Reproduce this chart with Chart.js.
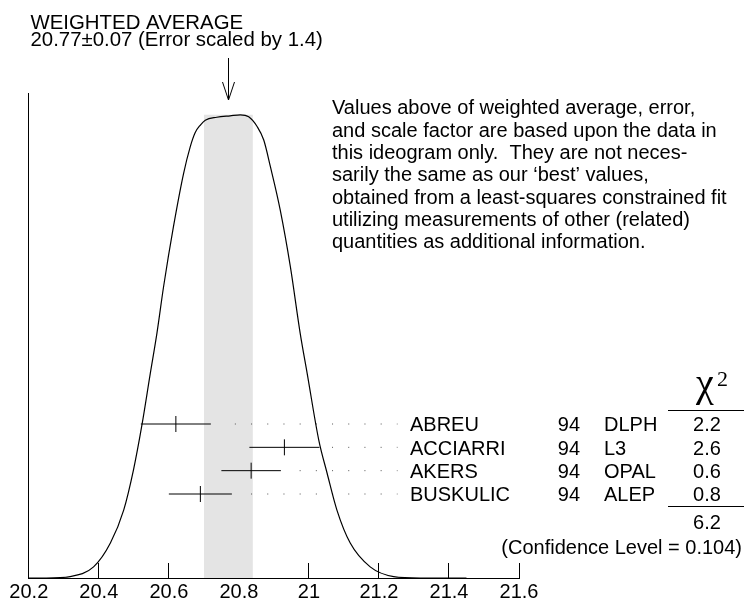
<!DOCTYPE html>
<html><head><meta charset="utf-8">
<script src="https://cdn.jsdelivr.net/npm/chart.js@4.4.1/dist/chart.umd.min.js"></script>
<style>html,body{margin:0;padding:0;background:#fff;overflow:hidden}#c{display:block}</style>
</head><body>
<canvas id="c" width="746" height="607" style="width:746px;height:607px"></canvas>
<script>
// ---- data ----
const names = ['ABREU', 'ACCIARRI', 'AKERS', 'BUSKULIC'];
const years = ['94', '94', '94', '94'];
const experiments = ['DLPH', 'L3', 'OPAL', 'ALEP'];
const values = [20.62, 20.93, 20.835, 20.69];
const errors = [0.10, 0.10, 0.085, 0.09];
const chi2 = ['2.2', '2.6', '0.6', '0.8'];
const chi2Total = '6.2';
const confidenceLevel = '0.104';
const weightedAverage = 20.77;
const weightedError = 0.07;
const scaleFactor = 1.4;
const xTicks = [20.2, 20.4, 20.6, 20.8, 21.0, 21.2, 21.4, 21.6];
const curveX = [20.20, 20.25, 20.318, 20.385, 20.433, 20.471, 20.499, 20.523, 20.547, 20.566, 20.585, 20.613, 20.642, 20.661, 20.675, 20.690, 20.704, 20.737, 20.775, 20.804, 20.828, 20.852, 20.871, 20.890, 20.918, 20.947, 20.975, 20.995, 21.028, 21.052, 21.080, 21.118, 21.175, 21.242, 21.318, 21.45];
const curveY = [0.000, 0.000, 0.003, 0.023, 0.072, 0.140, 0.223, 0.315, 0.422, 0.505, 0.601, 0.724, 0.834, 0.889, 0.918, 0.934, 0.944, 0.950, 0.953, 0.955, 0.951, 0.931, 0.903, 0.848, 0.759, 0.642, 0.505, 0.422, 0.285, 0.216, 0.140, 0.072, 0.023, 0.003, 0.000, 0.000];
const noteLines = [
  'Values above of weighted average, error,',
  'and scale factor are based upon the data in',
  'this ideogram only.  They are not neces-',
  'sarily the same as our \u2018best\u2019 values,',
  'obtained from a least-squares constrained fit',
  'utilizing measurements of other (related)',
  'quantities as additional information.'
];

// ---- rendering ----
const F = "'Liberation Sans', Arial, Helvetica, sans-serif";
const SERIF = "'Liberation Serif', 'DejaVu Serif', serif";
Chart.defaults.font.family = F;
Chart.defaults.font.size = 20;
Chart.defaults.color = '#000';

const bandTop = Math.max(...curveY);
const dotEnd = 21.251, dotStep = 0.04625, dotGap = 0.034;

const datasets = [];
datasets.push({
  data: curveX.map((x, i) => ({x: x, y: curveY[i]})),
  borderColor: '#000', borderWidth: 1.2, pointRadius: 0,
  cubicInterpolationMode: 'monotone', fill: false, order: 1
});
datasets.push({
  data: [{x: weightedAverage - weightedError, y: bandTop}, {x: weightedAverage + weightedError, y: bandTop}],
  borderColor: 'rgba(0,0,0,0)', borderWidth: 0, backgroundColor: '#e4e4e4',
  fill: 'origin', pointRadius: 0, order: 10
});
values.forEach((v, i) => {
  const e = errors[i];
  datasets.push({
    yAxisID: 'yr', data: [{x: v - e, y: i}, {x: v + e, y: i}],
    borderColor: '#000', borderWidth: 1, pointRadius: 0, fill: false, order: 2
  });
  const hi = v + e + dotGap;
  const start = dotEnd - dotStep * Math.floor((dotEnd - hi) / dotStep + 1e-9);
  datasets.push({
    yAxisID: 'yr', data: [{x: start, y: i}, {x: dotEnd + 0.002, y: i}],
    borderColor: '#555', borderWidth: 1, borderDash: [1, 15.2], pointRadius: 0, fill: false, order: 3
  });
});
datasets.push({
  yAxisID: 'yr', showLine: false,
  data: values.map((v, i) => ({x: v, y: i})),
  pointStyle: 'line', rotation: 90, pointRadius: 8, pointBorderWidth: 1,
  pointBorderColor: '#000', borderColor: '#000', order: 2
});

const textPlugin = {
  id: 'texts',
  afterDraw(chart) {
    const ctx = chart.ctx;
    const xs = chart.scales.x, yr = chart.scales.yr;
    ctx.save();
    ctx.fillStyle = '#000';
    ctx.strokeStyle = '#000';
    ctx.lineWidth = 1;
    ctx.textBaseline = 'alphabetic';
    ctx.font = '20.4px ' + F;
    ctx.textAlign = 'left';
    ctx.fillText('WEIGHTED AVERAGE', 30.5, 28.5);
    ctx.fillText(weightedAverage.toFixed(2) + '\u00b1' + weightedError.toFixed(2) + ' (Error scaled by ' + scaleFactor + ')', 30.5, 45.5);
    // arrow
    const ax = Math.round(xs.getPixelForValue(weightedAverage)) + 0.5;
    ctx.beginPath();
    ctx.moveTo(ax, 58); ctx.lineTo(ax, 100);
    ctx.moveTo(ax - 6, 82); ctx.lineTo(ax, 100); ctx.lineTo(ax + 6, 82);
    ctx.stroke();
    // note
    ctx.font = '20px ' + F;
    noteLines.forEach((t, i) => ctx.fillText(t, 332, 114.3 + 22.3 * i));
    // rows
    names.forEach((n, i) => {
      const y = yr.getPixelForValue(i) + 7.3;
      ctx.textAlign = 'left';
      ctx.fillText(n, 410, y);
      ctx.textAlign = 'right';
      ctx.fillText(years[i], 580, y);
      ctx.textAlign = 'left';
      ctx.fillText(experiments[i], 604, y);
      ctx.textAlign = 'center';
      ctx.fillText(chi2[i], 707, y);
    });
    // chi2 header
    ctx.textAlign = 'center';
    ctx.font = '40px ' + SERIF;
    ctx.fillText('\u03c7', 705, 396);
    ctx.font = '22px ' + SERIF;
    ctx.textAlign = 'left';
    ctx.fillText('2', 717, 386);
    ctx.beginPath();
    ctx.moveTo(668, 410.5); ctx.lineTo(744, 410.5);
    ctx.moveTo(668, 506.5); ctx.lineTo(744, 506.5);
    ctx.stroke();
    ctx.font = '20px ' + F;
    ctx.textAlign = 'center';
    ctx.fillText(chi2Total, 707, 529);
    ctx.textAlign = 'right';
    ctx.fillText('(Confidence Level = ' + confidenceLevel + ')', 742, 554);
    ctx.restore();
  }
};

new Chart(document.getElementById('c'), {
  type: 'line',
  data: {datasets: datasets},
  plugins: [textPlugin],
  options: {
    responsive: false, animation: false, devicePixelRatio: 1, events: [],
    layout: {padding: {left: 28.8, right: 227, top: 93, bottom: 0}},
    plugins: {legend: {display: false}, tooltip: {enabled: false}},
    scales: {
      x: {
        type: 'linear', min: 20.2, max: 21.6,
        afterBuildTicks: s => { s.ticks = xTicks.map(v => ({value: v})); },
        afterFit: s => { s.height = 29; s.paddingLeft = 0; s.paddingRight = 0; },
        ticks: {padding: 17.5, autoSkip: false, maxRotation: 0, color: '#000',
                font: {size: 20}, callback: v => String(Number(v.toFixed(1)))},
        grid: {display: true, drawOnChartArea: false, drawTicks: true, tickLength: -15, color: '#000', lineWidth: 1},
        border: {display: true, color: '#000', width: 1}
      },
      y: {
        type: 'linear', min: 0, max: 1,
        afterFit: s => { s.width = 0; },
        ticks: {display: false}, grid: {display: false, drawTicks: false},
        border: {display: true, color: '#000', width: 1}
      },
      yr: {type: 'linear', display: false, reverse: true, min: -14.186, max: 6.600}
    }
  }
});
</script>
</body></html>
